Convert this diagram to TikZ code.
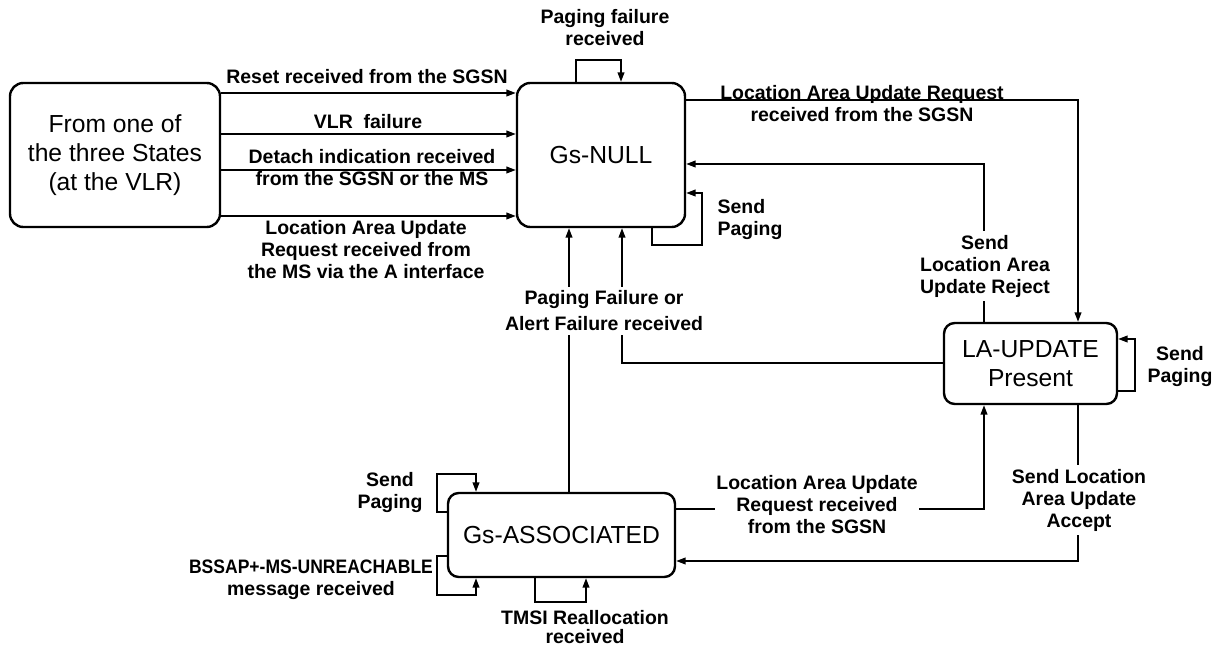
\documentclass[tikz,border=0pt]{standalone}
\usepackage{fontspec}
\setmainfont{Liberation Sans}
\usetikzlibrary{arrows.meta}
\begin{document}
\begin{tikzpicture}[x=0.75pt, y=-0.75pt,
        state/.style={draw, line width=1.8pt, rounded corners=10pt, align=center, inner sep=0pt,
            font=\fontsize{18.5}{21.5}\selectfont},
        arr/.style={line width=1.1pt, -{Triangle[length=7pt,width=5pt]}},
        lbl/.style={align=center, inner sep=1pt, font=\bfseries\fontsize{14.6}{16.5}\selectfont},
        gap/.style={lbl, fill=white, inner sep=3pt}]
        \useasboundingbox (0,0) rectangle (1222,648);

        % States
        \node[state, minimum width=157.5pt, minimum height=108pt] (src) at (115,155)
            {From one of\\the three States\\(at the VLR)};
        \node[state, minimum width=126pt, minimum height=108pt] (gsnull) at (601,155) {Gs-NULL};
        \node[state, rounded corners=8pt, minimum width=129.75pt, minimum height=60.75pt] (laupd) at (1030.5,363.5)
            {LA-UPDATE\\Present};
        \node[state, rounded corners=8pt, minimum width=170.25pt, minimum height=63pt] (gsassoc) at (561.5,535)
            {Gs-ASSOCIATED};

        % From one of the three states to Gs-NULL
        \foreach \y in {93,134,170,216}
            \draw[arr] (src.east |- 0,\y) -- (gsnull.west |- 0,\y);
        \node[lbl] (reset) at (367,77) {Reset received from the SGSN};
        \node[lbl] (vlrfail) at (368,122) {VLR\ \ failure};
        \node[lbl] (detach) at (372,168) {Detach indication received\\from the SGSN or the MS};
        \node[lbl] (lauvia) at (366,250) {Location Area Update\\Request received from\\the MS via the A interface};

        % Loops on Gs-NULL
        \draw[arr] (gsnull.north -| 576,0) |- (621,60) -- (gsnull.north -| 621,0);
        \node[lbl] (pagfail) at (605,28) {Paging failure\\received};
        \draw[arr] (gsnull.south -| 652,0) |- (702,245) |- (gsnull.east |- 0,193);
        \node[lbl, anchor=west, align=left] (sendpag1) at (716,220) {Send\\Paging};

        % Gs-NULL <-> LA-UPDATE
        \draw[arr] (gsnull.east |- 0,100) -| (laupd.north -| 1078,0);
        \node[lbl] (lausgsn) at (862,104) {Location Area Update Request\\received from the SGSN};
        \draw[arr] (laupd.north -| 984,0) |- (gsnull.east |- 0,164);
        \node[gap] (reject) at (985,266) {Send\\Location Area\\Update Reject};

        % Failures back to Gs-NULL
        \draw[arr] (gsassoc.north -| 569,0) -- (gsnull.south -| 569,0);
        \draw[arr] (laupd.west |- 0,363) -| (gsnull.south -| 622,0);
        \node[gap, font=\bfseries\fontsize{14.6}{19.5}\selectfont] (alert) at (604,311)
            {Paging Failure or\\Alert Failure received};

        % Loop on LA-UPDATE
        \draw[arr] (laupd.east |- 0,391) -| (1135,339) -- (laupd.east |- 0,339);
        \node[lbl] (sendpag2) at (1180,367) {Send\\Paging};

        % Gs-ASSOCIATED <-> LA-UPDATE
        \draw[arr] (gsassoc.east |- 0,509) -| (laupd.south -| 984,0);
        \node[gap, inner xsep=1pt] (lauassoc) at (817,505) {Location Area Update\\Request received\\from the SGSN};
        \draw[arr] (laupd.south -| 1078,0) |- (gsassoc.east |- 0,561);
        \node[gap] (accept) at (1079,500) {Send Location\\Area Update\\Accept};

        % Loops on Gs-ASSOCIATED
        \draw[arr] (gsassoc.west |- 0,512) -| (437,474) -| (gsassoc.north -| 476,0);
        \node[lbl] (sendpag3) at (390,493) {Send\\Paging};
        \draw[arr] (gsassoc.west |- 0,556) -| (437,595) -| (gsassoc.south -| 476,0);
        \node[lbl] (unreach) at (311,580) {\scalebox{0.9}[1]{BSSAP+-MS-UNREACHABLE}\\message received};
        \draw[arr] (gsassoc.south -| 535,0) |- (586,602) -- (gsassoc.south -| 586,0);
        \node[lbl, font=\bfseries\fontsize{14.6}{14.2}\selectfont] (tmsi) at (585,627) {TMSI Reallocation\\received};

    \end{tikzpicture}
\end{document}
